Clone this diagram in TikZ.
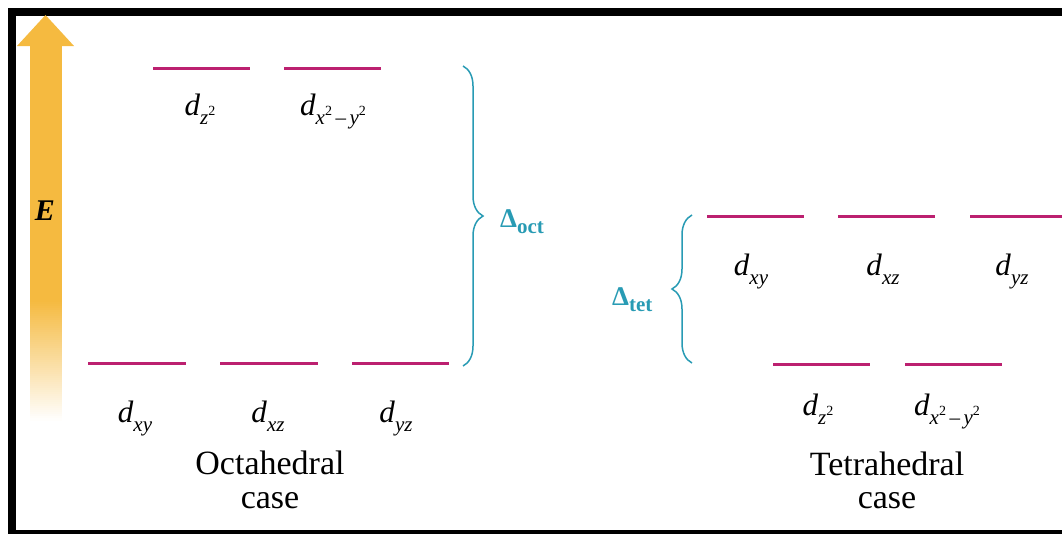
\documentclass[tikz,border=0pt]{standalone}
\usepackage{fontspec}
\setmainfont{Liberation Serif}
\usetikzlibrary{decorations.pathreplacing}
\definecolor{lev}{RGB}{188,32,112}
\definecolor{brc}{RGB}{40,155,180}
\definecolor{arr}{RGB}{245,186,64}
\newcommand{\sqtwo}{\raisebox{0.42em}{\fontsize{14}{14}\selectfont\upshape 2}}
\newcommand{\dorb}[1]{\textit{d}\raisebox{-0.30em}{\fontsize{21}{21}\selectfont\itshape #1}}
\newcommand{\dminus}{\,{\upshape –}\,}
\begin{document}
\begin{tikzpicture}[x=1pt,y=-1pt,
  lvl/.style={draw=lev,line width=3pt},
  orb/.style={anchor=base,inner sep=0pt,font=\fontsize{31}{31}\selectfont},
  captxt/.style={anchor=base,inner sep=0pt,font=\fontsize{34}{34}\selectfont},
  gap/.style={anchor=base west,inner sep=0pt,text=brc,font=\fontsize{27}{27}\selectfont\bfseries},
  brc/.style={draw=brc,line width=1.5pt,decorate,decoration={brace,amplitude=20pt,aspect=0.5}}]
\useasboundingbox (0,0) rectangle (1062,533);
\clip (0,0) rectangle (1062,533);
\fill[white] (0,0) rectangle (1062,533);
% frame
\draw[line width=8pt] (12,540) -- (12,12) -- (1075,12);
\draw[line width=8pt] (8,534) -- (1075,534);
% energy arrow
\fill[arr] (29.5,45) rectangle (62,300.5);
\foreach \i in {0,...,59}{
  \pgfmathsetmacro{\pc}{100-\i*100/60}
  \fill[arr!\pc!white] (29.5,300+\i*2) rectangle (62,302.5+\i*2);
}
\fill[arr] (17,46) -- (45.5,15) -- (74,46) -- cycle;
\node[anchor=base,inner sep=0pt,font=\fontsize{30}{30}\selectfont\bfseries\itshape] (E) at (45,220) {E};
% octahedral
\coordinate (oa1) at (153,68); \coordinate (ob1) at (250,68);
\coordinate (oa2) at (284,68); \coordinate (ob2) at (381,68);
\coordinate (oc1) at (88,363); \coordinate (od1) at (186,363);
\coordinate (oc2) at (220,363); \coordinate (od2) at (318,363);
\coordinate (oc3) at (352,363); \coordinate (od3) at (449,363);
\draw[lvl] (oa1) -- (ob1); \draw[lvl] (oa2) -- (ob2);
\draw[lvl] (oc1) -- (od1); \draw[lvl] (oc2) -- (od2); \draw[lvl] (oc3) -- (od3);
\node[orb] (oz2) at (200,115) {\dorb{z\sqtwo}};
\node[orb] (ox2) at (333,115) {\dorb{x\sqtwo\dminus y\sqtwo}};
\node[orb] (oxy) at (135,422) {\dorb{xy}};
\node[orb] (oxz) at (268,422) {\dorb{xz}};
\node[orb] (oyz) at (396,422) {\dorb{yz}};
\node[captxt] (oct1) at (270,474) {Octahedral};
\node[captxt] (oct2) at (270,508) {case};
\coordinate (bo1) at (463,66); \coordinate (bo2) at (463,366);
\draw[brc] (bo1) -- (bo2);
\node[gap] (doct) at (500,227) {Δ\raisebox{-0.25em}{\fontsize{21}{21}\selectfont oct}};
% tetrahedral
\coordinate (ta1) at (707,216); \coordinate (tb1) at (804,216);
\coordinate (ta2) at (838,216); \coordinate (tb2) at (935,216);
\coordinate (ta3) at (970,216); \coordinate (tb3) at (1067,216);
\coordinate (tc1) at (773,364); \coordinate (td1) at (870,364);
\coordinate (tc2) at (905,364); \coordinate (td2) at (1002,364);
\draw[lvl] (ta1) -- (tb1); \draw[lvl] (ta2) -- (tb2); \draw[lvl] (ta3) -- (tb3);
\draw[lvl] (tc1) -- (td1); \draw[lvl] (tc2) -- (td2);
\node[orb] (txy) at (751,275) {\dorb{xy}};
\node[orb] (txz) at (883,275) {\dorb{xz}};
\node[orb] (tyz) at (1012,275) {\dorb{yz}};
\node[orb] (tz2) at (818,415) {\dorb{z\sqtwo}};
\node[orb] (tx2) at (947,415) {\dorb{x\sqtwo\dminus y\sqtwo}};
\node[captxt] (tet1) at (887,475) {Tetrahedral};
\node[captxt] (tet2) at (887,508) {case};
\coordinate (bt1) at (692,363); \coordinate (bt2) at (692,215);
\draw[brc] (bt1) -- (bt2);
\node[gap] (dtet) at (612,305) {Δ\raisebox{-0.25em}{\fontsize{21}{21}\selectfont tet}};
\end{tikzpicture}
\end{document}
